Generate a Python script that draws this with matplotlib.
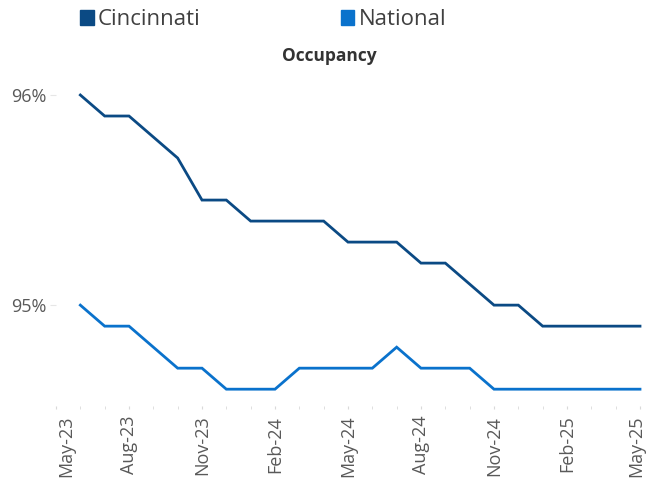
import matplotlib
matplotlib.use("Agg")
import matplotlib.pyplot as plt
import matplotlib.transforms as mtransforms
from matplotlib.patches import Patch

plt.rcParams['font.family'] = ['Open Sans', 'DejaVu Sans']

# months on the axis, May-23 .. May-25
months = ['May-23', 'Jun-23', 'Jul-23', 'Aug-23', 'Sep-23', 'Oct-23', 'Nov-23',
          'Dec-23', 'Jan-24', 'Feb-24', 'Mar-24', 'Apr-24', 'May-24', 'Jun-24',
          'Jul-24', 'Aug-24', 'Sep-24', 'Oct-24', 'Nov-24', 'Dec-24', 'Jan-25',
          'Feb-25', 'Mar-25', 'Apr-25', 'May-25']

# data runs Jun-23 .. May-25
cincinnati = [96.0, 95.9, 95.9, 95.8, 95.7, 95.5, 95.5, 95.4, 95.4, 95.4, 95.4, 95.3,
              95.3, 95.3, 95.2, 95.2, 95.1, 95.0, 95.0, 94.9, 94.9, 94.9, 94.9, 94.9]
national = [95.0, 94.9, 94.9, 94.8, 94.7, 94.7, 94.6, 94.6, 94.6, 94.7, 94.7, 94.7,
            94.7, 94.8, 94.7, 94.7, 94.7, 94.6, 94.6, 94.6, 94.6, 94.6, 94.6, 94.6]

c_dark = '#0b4a84'
c_light = '#0a72cc'
grey = '#595959'

fig = plt.figure(figsize=(6.47, 4.82), dpi=100)
ax = fig.add_axes([56 / 647, 1 - 406 / 482, 584 / 647, 311 / 482])

x = list(range(1, len(months)))
ax.plot(x, cincinnati, color=c_dark, lw=2.0, clip_on=False, solid_joinstyle='miter')
ax.plot(x, national, color=c_light, lw=2.0, clip_on=False, solid_joinstyle='miter')

ax.set_xlim(0, len(months) - 1)
ax.set_ylim(94.52, 96.0)

# x axis: light tick each month, label every 3 months
ax.set_xticks(range(len(months)), minor=True)
ax.set_xticks(range(0, len(months), 3))
ax.set_xticklabels(months[::3], rotation=90, fontsize=13, color=grey)
ax.tick_params(axis='x', which='both', length=2, color='#d9d9d9', pad=5)
# end labels are nudged inwards, as in the original
labels = ax.get_xticklabels()
labels[0].set_transform(labels[0].get_transform() +
                        mtransforms.ScaledTranslation(10 / 100, 0, fig.dpi_scale_trans))
labels[-1].set_transform(labels[-1].get_transform() +
                         mtransforms.ScaledTranslation(-4 / 100, 0, fig.dpi_scale_trans))

ax.set_yticks([95, 96])
ax.set_yticklabels(['95%', '96%'], fontsize=13, color=grey)
ax.tick_params(axis='y', length=4, color='#e6e6e6', pad=3)

for s in ax.spines.values():
    s.set_visible(False)

fig.text(329.5 / 647, 1 - 56 / 482, 'Occupancy', fontsize=12.5, fontweight='bold',
         color='#333333', ha='center', va='center')

handles = [Patch(color=c_dark, label='Cincinnati'), Patch(color=c_light, label='National')]
fig.legend(handles=handles, loc='upper left', bbox_to_anchor=(60 / 647, 1.022), ncol=2,
           frameon=False, fontsize=16, handlelength=0.61, handleheight=0.61,
           handletextpad=0.2, columnspacing=6.3, labelcolor='#404040')

fig.savefig('out.png', dpi=100)
